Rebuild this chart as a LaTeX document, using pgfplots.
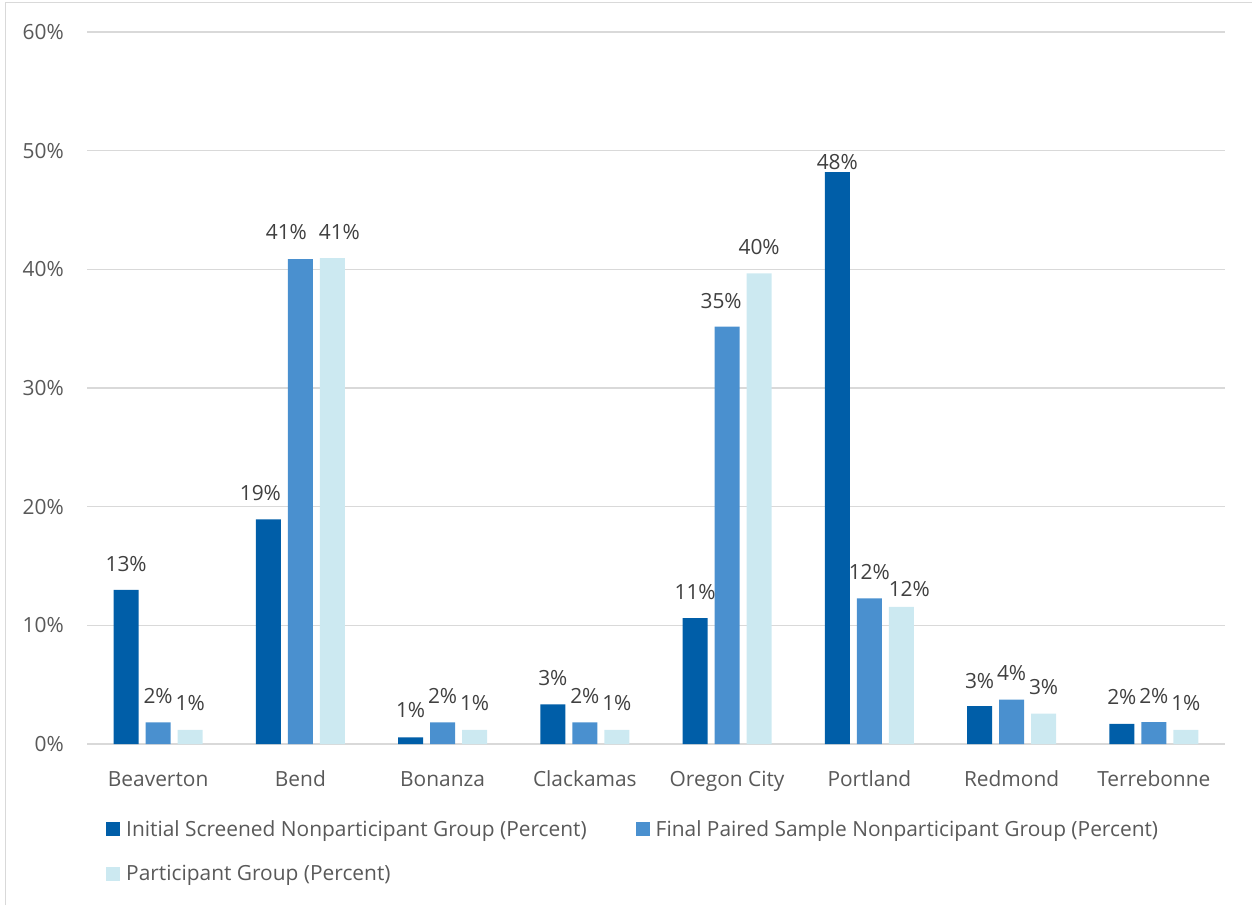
\documentclass[border=0pt]{standalone}
\usepackage{fontspec}
\setmainfont{Open Sans}
\usepackage{pgfplots}
\usepackage{pgfplotstable}
\pgfplotsset{compat=1.18}

\definecolor{cdark}{RGB}{0,94,168}
\definecolor{cmid}{RGB}{74,144,207}
\definecolor{clight}{RGB}{204,233,241}
\definecolor{tickgray}{RGB}{89,89,89}
\definecolor{labelgray}{RGB}{64,64,64}
\definecolor{gridgray}{RGB}{217,217,217}

% x = city index, y = percent, dx/dy = data-label offsets (pt)
\pgfplotstableread{
x y     dx  dy
0 12.98  0  18.5
1 18.93 -8  19
2 0.55   0  19.5
3 3.34   0  19
4 10.6   0  18.5
5 48.2   0  3
6 3.2    0  18
7 1.69   0  19
}\initialscreened
\pgfplotstableread{
x y     dx  dy
0 1.83   0  19
1 40.87 -14 19.7
2 1.83   0  19
3 1.83   0  19
4 35.17 -6  18.4
5 12.27  0  19
6 3.73   0  19
7 1.85   0  19
}\finalpaired
\pgfplotstableread{
x y     dx  dy
0 1.18   0  19.5
1 40.95  7  18.7
2 1.18   0  19
3 1.18   0  19
4 39.66  0  19.3
5 11.55  8  10.7
6 2.55   0  19.3
7 1.2    0  19
}\participant

% square legend marker
\pgfplotsset{sqlegend/.style={legend image code/.code={\fill[##1] (0pt,-7pt) rectangle (14pt,7pt);}}}

\newcommand\chartfont{\fontsize{20.9}{25}\selectfont}

\begin{document}
\begin{tikzpicture}[x=1pt,y=1pt]
\useasboundingbox (0,0) rectangle (1252,905);
% chart frame
\draw[gridgray, line width=1.3pt] (5.3,0) -- (5.3,902.4) -- (1252,902.4);
\begin{axis}[
  at={(87pt,161pt)}, anchor=south west,
  scale only axis, width=1138pt, height=712pt,
  xmin=-0.5, xmax=7.5, ymin=0, ymax=60,
  ybar=7pt, bar width=25pt,
  clip=false,
  font=\chartfont,
  /pgf/number format/assume math mode=true,
  axis line style={draw=none},
  tick style={draw=none},
  ymajorgrids, major grid style={gridgray, line width=1.1pt},
  ytick={0,10,20,30,40,50,60},
  yticklabels={0\%,10\%,20\%,30\%,40\%,50\%,60\%},
  yticklabel style={text=tickgray, inner sep=0pt, xshift=-23pt},
  xtick={0,1,2,3,4,5,6,7},
  xticklabels={Beaverton,Bend,Bonanza,Clackamas,Oregon City,Portland,Redmond,Terrebonne},
  xticklabel style={text=tickgray, anchor=base, inner sep=0pt, yshift=-38pt},
  visualization depends on={\thisrow{dx} \as \ldx},
  visualization depends on={\thisrow{dy} \as \ldy},
  nodes near coords={\pgfmathprintnumber[fixed,precision=0]{\pgfplotspointmeta}\%},
  nodes near coords style={anchor=base, inner sep=0pt, xshift=\ldx pt, yshift=\ldy pt,
    text=labelgray, font=\chartfont},
  legend columns=2,
  legend cell align=left,
  legend style={draw=none, fill=none, inner sep=0pt,
    at={(0.0167,-0.10955)}, anchor=north west,
    font=\chartfont, text=tickgray,
    row sep=30.7pt,
    nodes={inner sep=0pt, text height=14pt, text depth=0pt},
    /tikz/every odd column/.append style={column sep=6pt},
    /tikz/every even column/.append style={column sep=49pt}},
]
\addplot[fill=cdark, draw=none, sqlegend] table[x=x, y=y] {\initialscreened};
\addplot[fill=cmid, draw=none, sqlegend] table[x=x, y=y] {\finalpaired};
\addplot[fill=clight, draw=none, sqlegend] table[x=x, y=y] {\participant};
\legend{Initial Screened Nonparticipant Group (Percent),
        Final Paired Sample Nonparticipant Group (Percent),
        Participant Group (Percent)}
\end{axis}
\end{tikzpicture}
\end{document}
